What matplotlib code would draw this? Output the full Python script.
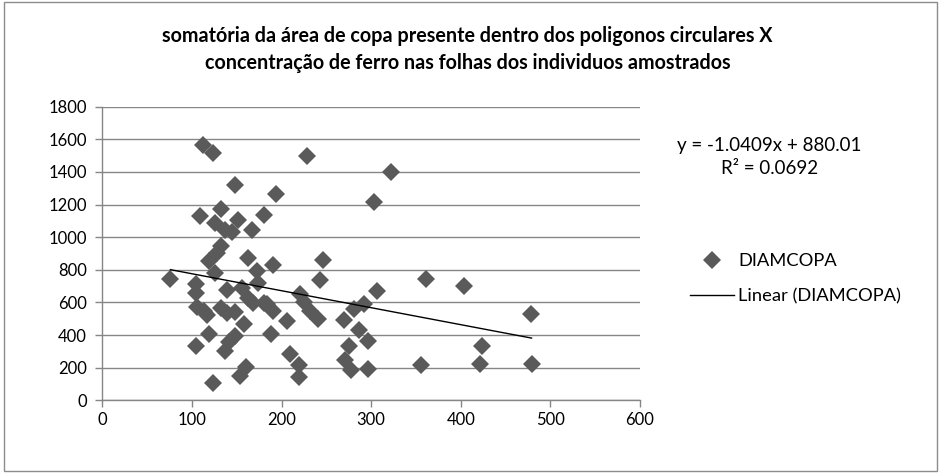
import matplotlib
matplotlib.use("Agg")
import matplotlib.pyplot as plt
from matplotlib.patches import Rectangle
import numpy as np

plt.rcParams['font.family'] = ['Lato', 'DejaVu Sans']

# Data (area sum of canopy, iron concentration)
area = [76, 104, 105, 106, 104, 109, 112, 123, 113, 117, 119, 119, 124, 126, 126,
        128, 133, 133, 133, 137, 137, 139, 139, 141, 145, 148, 148, 148, 151, 154,
        156, 158, 160, 163, 163, 167, 168, 173, 174, 180, 180, 184, 188, 190, 191,
        194, 206, 209, 220, 220, 221, 225, 228, 232, 241, 243, 246, 270, 271, 275,
        277, 281, 286, 292, 296, 296, 303, 306, 322, 356, 361, 404, 424, 421, 478, 479]
ferro = [745, 710, 660, 575, 330, 1130, 1565, 1515, 548, 520, 855, 407, 103, 1090, 781,
         905, 1175, 945, 565, 1044, 305, 677, 538, 356, 1034, 1321, 396, 540, 1105, 148,
         690, 468, 204, 872, 629, 1044, 595, 791, 720, 1135, 599, 589, 407, 548, 830,
         1267, 486, 281, 214, 140, 650, 600, 1500, 548, 498, 735, 860, 494, 245, 330,
         188, 559, 431, 589, 366, 194, 1215, 670, 1400, 214, 745, 698, 330, 225, 532, 225]

slope = -1.0409
intercept = 880.01
r2 = 0.0692

x_ticks = [0, 100, 200, 300, 400, 500, 600]
y_ticks = [0, 200, 400, 600, 800, 1000, 1200, 1400, 1600, 1800]

title = ("somatória da área de copa presente dentro dos poligonos circulares X\n"
         "concentração de ferro nas folhas dos individuos amostrados")

fig = plt.figure(figsize=(9.41, 4.74), dpi=100)
fig.patches.append(Rectangle((0.004, 0.006), 0.992, 0.99, transform=fig.transFigure,
                             fill=False, edgecolor='#8c8c8c', linewidth=1.0))

ax = fig.add_axes([102.3 / 941, 1 - 400.3 / 474, (640 - 102.3) / 941, (400.3 - 106.7) / 474])
gray = '#868686'
ax.set_xlim(0, 600)
ax.set_ylim(0, 1800)
ax.set_xticks(x_ticks)
ax.set_yticks(y_ticks)
ax.grid(axis='y', color=gray, linewidth=1.0)
ax.set_axisbelow(True)
for s in ['top', 'right']:
    ax.spines[s].set_visible(False)
for s in ['left', 'bottom']:
    ax.spines[s].set_color(gray)
    ax.spines[s].set_linewidth(1.0)
ax.tick_params(axis='both', colors=gray, length=5, width=1.0, labelsize=12,
               labelcolor='#000000')
ax.tick_params(axis='y', pad=6)

ax.plot(area, ferro, linestyle='none', marker='D', markersize=8.8,
        color='#5a5a5a', markeredgewidth=0, label='DIAMCOPA')
xl = np.array([min(area), max(area)])
ax.plot(xl, slope * xl + intercept, color='black', linewidth=1.0,
        label='Linear (DIAMCOPA)')

fig.text(0.497, 0.895, title, ha='center', va='center', fontsize=14.2,
         fontweight='bold', linespacing=1.45)

fig.text(0.818, 0.693, f"y = {slope}x + {intercept:.2f}", ha='center', va='center',
         fontsize=13.5)
fig.text(0.818, 0.645, f"R² = {r2}", ha='center', va='center', fontsize=13.5)

leg = fig.legend(loc='center left', bbox_to_anchor=(0.733, 0.411), frameon=False,
                 fontsize=13.2, handlelength=2.4, handletextpad=0.25,
                 labelspacing=1.05, borderpad=0, borderaxespad=0)

fig.savefig('out.png', dpi=100)
